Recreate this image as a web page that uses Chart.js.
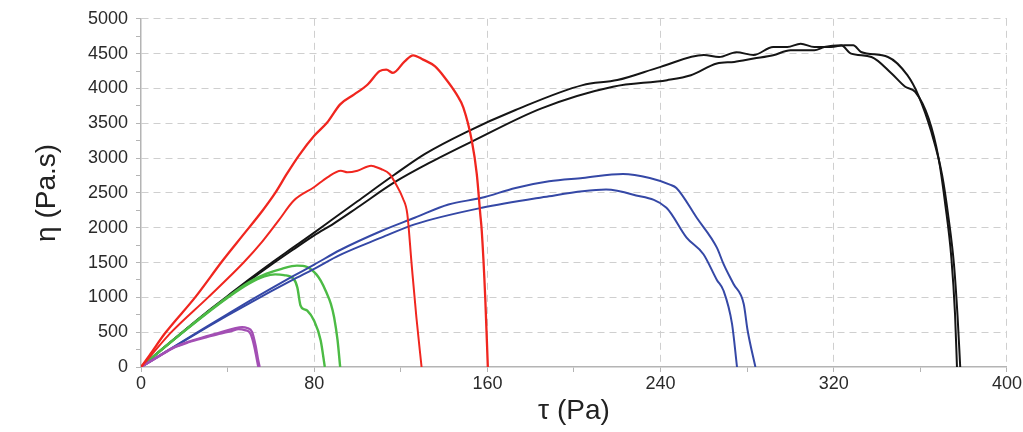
<!DOCTYPE html>
<html>
<head>
<meta charset="utf-8">
<script src="https://cdn.jsdelivr.net/npm/chart.js@4.4.1/dist/chart.umd.min.js"></script>
<style>
  html, body { margin: 0; padding: 0; background: #fff; }
  #wrap { width: 1023px; height: 432px; }
</style>
</head>
<body>
<div id="wrap"><canvas id="myChart" width="1023" height="432"></canvas></div>
<script>
// --- Data (tau in Pa, eta in Pa.s) ---
const xTitle = "τ (Pa)";
const yTitle = "η (Pa.s)";

const tauRed1 = [0, 4, 11, 25, 38, 47, 56, 62, 67.5, 73, 80, 86, 92, 98.5, 104.7, 110.2, 113.3, 116.4, 121.8, 125.7, 130.3, 135.7, 140.4, 145.8, 148.9, 152.8, 155.1, 156.7, 157.4, 159, 160.2];
const etaRed1 = [0, 170, 480, 1000, 1540, 1890, 2240, 2500, 2780, 3040, 3320, 3510, 3771, 3914, 4057, 4248, 4271, 4224, 4390, 4476, 4414, 4319, 4152, 3914, 3724, 3248, 2771, 2200, 1953, 1000, 0];

const tauRed2 = [0, 5, 14, 31, 47.4, 56, 63.6, 70.6, 79.9, 86.1, 92.3, 95.4, 100, 106.3, 107.8, 110.9, 114.8, 117.5, 121, 123, 125, 127.2, 129.6];
const etaRed2 = [0, 180, 500, 1000, 1500, 1800, 2105, 2390, 2581, 2724, 2819, 2795, 2819, 2890, 2880, 2843, 2771, 2640, 2420, 2200, 1477, 714, 0];

const tauBlack1 = [0, 10, 20, 30, 40, 50, 60, 70, 80, 88, 100, 117, 131, 150, 173, 204, 220, 240, 260, 267, 275, 283, 292, 298.5, 304.7, 311, 318.7, 325, 329, 332.6, 345, 354, 359, 365, 370, 373, 375.5, 377.2, 378.4];
const etaBlack1 = [0, 265, 525, 780, 1020, 1260, 1490, 1710, 1930, 2110, 2380, 2760, 3057, 3370, 3690, 4048, 4120, 4310, 4480, 4450, 4520, 4480, 4595, 4595, 4643, 4595, 4595, 4620, 4620, 4524, 4452, 4190, 3905, 3381, 2762, 2143, 1476, 714, 0];

const tauBlack2 = [0, 10, 20, 30, 40, 50, 60, 70, 80, 89, 100, 117, 135, 153, 185, 218, 243, 254, 266, 274, 283, 292, 300, 311, 315.6, 323.4, 328, 337.4, 346.7, 353, 357.6, 363.8, 368.4, 371.5, 374.3, 376, 376.9];
const etaBlack2 = [0, 262, 518, 768, 1005, 1240, 1465, 1680, 1890, 2060, 2290, 2650, 2960, 3240, 3714, 4024, 4119, 4190, 4357, 4381, 4429, 4476, 4548, 4548, 4595, 4619, 4500, 4452, 4214, 4024, 3952, 3571, 3000, 2333, 1571, 762, 0];

const tauBlue1 = [0, 10, 20, 30, 40, 50, 60, 70, 80, 92, 111, 126.4, 142, 157.4, 173, 188.5, 204, 222.6, 235, 244.3, 247.3, 256.7, 266, 269.1, 273.7, 278.4, 280.2, 283.8];
const etaBlue1 = [0, 192, 383, 573, 760, 945, 1125, 1300, 1470, 1680, 1953, 2143, 2334, 2429, 2571, 2667, 2714, 2772, 2714, 2619, 2571, 2143, 1714, 1477, 1191, 905, 524, 0];

const tauBlue2 = [0, 10, 20, 30, 40, 50, 60, 70, 80, 92, 111, 126.4, 157.4, 188.5, 204, 214.8, 227, 242.7, 252, 259.8, 266, 269.1, 273, 275.3];
const etaBlue2 = [0, 188, 375, 560, 740, 915, 1085, 1250, 1410, 1610, 1857, 2048, 2286, 2452, 2524, 2548, 2476, 2286, 1857, 1619, 1250, 1095, 619, 0];

const tauGreen1 = [0, 10, 20, 30, 40, 50, 58, 65, 72, 76.8, 81, 83, 85.5, 87.7, 89.2, 90.8, 92];
const etaGreen1 = [0, 262, 518, 768, 1005, 1220, 1340, 1410, 1455, 1435, 1330, 1239, 1080, 906, 714, 381, 0];

const tauGreen2 = [0, 10, 20, 30, 40, 50, 57, 62, 66, 70.6, 72.2, 73.7, 75.3, 76.8, 79.9, 83, 84.9];
const etaGreen2 = [0, 260, 515, 762, 995, 1200, 1300, 1330, 1320, 1262, 1143, 880, 830, 810, 667, 381, 0];

const tauPurple1 = [0, 8, 15, 22.6, 30, 36, 42.8, 46.7, 49, 51.3, 52.9, 54, 54.8];
const etaPurple1 = [0, 150, 280, 370, 440, 490, 550, 574, 560, 502, 311, 120, 0];

const tauPurple2 = [0, 8, 15, 22, 30, 36, 42, 45, 48, 50.5, 52.3, 53.5, 54.2];
const etaPurple2 = [0, 148, 275, 355, 425, 475, 520, 545, 530, 480, 300, 110, 0];

// --- Helpers ---
const pairs = (tau, eta) => tau.map((t, i) => ({ x: t, y: eta[i] }));

function curve(tau, eta, color, width) {
  return {
    data: pairs(tau, eta),
    borderColor: color,
    borderWidth: width,
    pointRadius: 0,
    showLine: true,
    fill: false,
    cubicInterpolationMode: "monotone"
  };
}

const RED = "#f0261f";
const BLACK = "#151515";
const BLUE = "#3548a6";
const GREEN = "#4cbb45";
const PURPLE = "#a34fb4";
const GRID = "#cfcfcf";
const AXIS = "#b4b4b4";
const tickFont = { family: "'Liberation Sans', Arial, sans-serif", size: 18 };

// axis titles drawn on the canvas
const axisTitles = {
  id: "axisTitles",
  afterDraw(chart) {
    const { ctx, chartArea } = chart;
    ctx.save();
    ctx.fillStyle = "#222";
    ctx.font = "28px 'Liberation Sans', Arial, sans-serif";
    ctx.textAlign = "center";
    ctx.textBaseline = "middle";
    ctx.fillText(xTitle, (chartArea.left + chartArea.right) / 2, 411);
    ctx.translate(47, (chartArea.top + chartArea.bottom) / 2);
    ctx.rotate(-Math.PI / 2);
    ctx.fillText(yTitle, 0, 0);
    ctx.restore();
  }
};

const ctx = document.getElementById("myChart");
const chart = new Chart(ctx, {
  type: "scatter",
  data: {
    datasets: [
      curve(tauRed1, etaRed1, RED, 2.3),
      curve(tauRed2, etaRed2, RED, 2),
      curve(tauPurple1, etaPurple1, PURPLE, 2.3),
      curve(tauPurple2, etaPurple2, PURPLE, 2.3),
      curve(tauBlue1, etaBlue1, BLUE, 2),
      curve(tauBlue2, etaBlue2, BLUE, 2),
      curve(tauGreen1, etaGreen1, GREEN, 2.4),
      curve(tauGreen2, etaGreen2, GREEN, 2.4),
      curve(tauBlack1, etaBlack1, BLACK, 2),
      curve(tauBlack2, etaBlack2, BLACK, 2)
    ]
  },
  options: {
    responsive: false,
    animation: false,
    layout: { padding: { top: 8, right: 5, left: 0, bottom: 0 } },
    plugins: {
      legend: { display: false },
      tooltip: { enabled: false }
    },
    scales: {
      x: {
        type: "linear",
        min: 0,
        max: 400,
        afterFit: s => { s.height = 65; },
        ticks: {
          stepSize: 40,
          autoSkip: false,
          maxRotation: 0,
          padding: 1,
          color: "#2a2a2a",
          font: tickFont,
          callback: v => (v % 80 === 0 ? v : "")
        },
        grid: {
          color: c => (c.tick && c.tick.value % 80 === 0 && c.tick.value !== 0 ? GRID : "rgba(0,0,0,0)"),
          tickColor: AXIS,
          tickLength: 5,
          lineWidth: 1
        },
        border: { color: AXIS, width: 1.5, dash: [7, 5] }
      },
      y: {
        type: "linear",
        min: 0,
        max: 5000,
        afterFit: s => { s.width = 141; },
        ticks: {
          stepSize: 250,
          autoSkip: false,
          padding: 8,
          color: "#2a2a2a",
          font: tickFont,
          callback: v => (v % 500 === 0 ? v : "")
        },
        grid: {
          color: c => (c.tick && c.tick.value % 500 === 0 && c.tick.value !== 0 ? GRID : "rgba(0,0,0,0)"),
          tickColor: AXIS,
          tickLength: 5,
          lineWidth: 1
        },
        border: { color: AXIS, width: 1.5, dash: [7, 5] }
      }
    }
  },
  plugins: [axisTitles]
});
</script>
</body>
</html>
